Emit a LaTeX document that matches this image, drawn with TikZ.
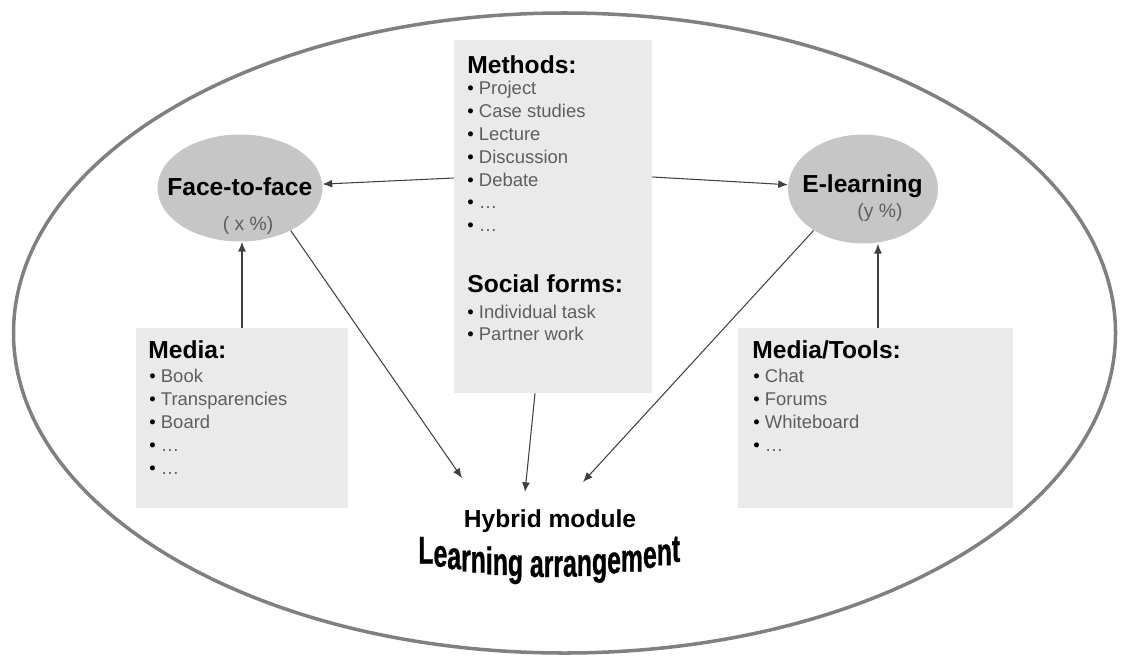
\documentclass[tikz,border=0pt]{standalone}
\usepackage{fontspec}
\setmainfont{Liberation Sans}
\newfontfamily\archfont{Liberation Sans Bold}[FakeStretch=0.64, FakeBold=0.8]
\usetikzlibrary{arrows.meta}
\usetikzlibrary{fit}
\usetikzlibrary{shapes.geometric}

\definecolor{boxgray}{HTML}{EAEAEA}
\definecolor{blobgray}{HTML}{C6C6C6}
\definecolor{itemgray}{HTML}{5E5E5E}

\tikzset{
  panel/.style={fill=boxgray, inner sep=0pt},
  blob/.style={ellipse, fill=blobgray, inner sep=0pt},
  head/.style={anchor=base west, inner sep=0pt, font=\fontsize{14}{16}\selectfont\bfseries},
  item/.style={anchor=base west, inner sep=0pt, text=itemgray, font=\fontsize{10.5}{13}\selectfont},
  share/.style={anchor=base, inner sep=0pt, text=itemgray, font=\fontsize{11}{13}\selectfont},
  archchar/.style={anchor=base west, inner sep=0pt, font=\archfont\fontsize{22}{22}\selectfont},
  link/.style={->, draw=black!75, line width=0.6pt},
}
\newcommand{\dotitem}[1]{{\color{black}\textbullet}\ #1}

\begin{document}
\begin{tikzpicture}[x=0.02cm, y=-0.02cm, >={Latex[length=5.5pt,width=4.5pt]}]
\useasboundingbox (0,0) rectangle (1121,659);
% outer frame
\draw[line width=2pt, draw=black!50] (564.5,333) ellipse [x radius=551, y radius=320];

% boxes
\node[panel, fit={(454,40) (652,393)}] (methods) {};
\node[panel, fit={(136,328) (348,508)}] (media) {};
\node[panel, fit={(738,328) (1013,508)}] (tools) {};

% the two shares
\node[blob, minimum width=3.3cm, minimum height=2.14cm] (face) at (240,188) {};
\node[blob, minimum width=3.0cm, minimum height=2.18cm] (elearn) at (863,189) {};
\node[head] (ftf) at (167,195) {Face-to-face};
\node[share] (xshare) at (248,230) {( x \%)};
\node[head] (el) at (802,192) {E-learning};
\node[share] (yshare) at (880,217) {(y \%)};

% methods and social forms
\node[head] (mhead) at (467,73) {Methods:};
\foreach \t [count=\i] in {Project,Case studies,Lecture,Discussion,Debate,\dots,\dots}
  \node[item] (m\i) at (467,{72+22.8*\i}) {\dotitem{\t}};
\node[head] (shead) at (467,292) {Social forms:};
\node[item] (s1) at (467,318) {\dotitem{Individual task}};
\node[item] (s2) at (467,340) {\dotitem{Partner work}};

% media
\node[head] (mdhead) at (148,358) {Media:};
\foreach \t [count=\i] in {Book,Transparencies,Board,\dots,\dots}
  \node[item] (md\i) at (149,{360+22.8*\i}) {\dotitem{\t}};

% media/tools
\node[head] (thead) at (752,358) {Media/Tools:};
\foreach \t [count=\i] in {Chat,Forums,Whiteboard,\dots}
  \node[item] (t\i) at (753,{360+22.8*\i}) {\dotitem{\t}};

% result
\node[anchor=base, inner sep=0pt, font=\fontsize{14}{16}\selectfont\bfseries] (hybrid) at (550,527) {Hybrid module};
\coordinate (hl) at (462,478);
\coordinate (hm) at (525,492);
\coordinate (hr) at (583,482);

\draw[link] (0,178 -| methods.west) -- (face);
\draw[link] (0,177 -| methods.east) -- (elearn);
\draw[link] (media.north) -- (media.north |- face.south);
\draw[link] (878,0 |- tools.north) -- (878,0 |- elearn.south);
\draw[link] (face.-40) -- (hl);
\draw[link] (535,0 |- methods.south) -- (hm);
\draw[link] (elearn.-140) -- (hr);

% arched title, upright letters on a sagging baseline
\foreach \c/\u [count=\i] in {L/0, e/6.11, a/11.67, r/17.23, n/21.12, i/27.23, n/30.01, g/36.12,
    a/45.01, r/50.57, r/54.46, a/58.35, n/63.91, g/70.02, e/76.13, m/81.69, e/90.58, n/96.14, t/102.25}
  \node[archchar] (lc\i) at ({418+2.48*\u}, {577-15*((418+2.48*\u+6-547)/130)^2}) {\c};
\end{tikzpicture}
\end{document}
